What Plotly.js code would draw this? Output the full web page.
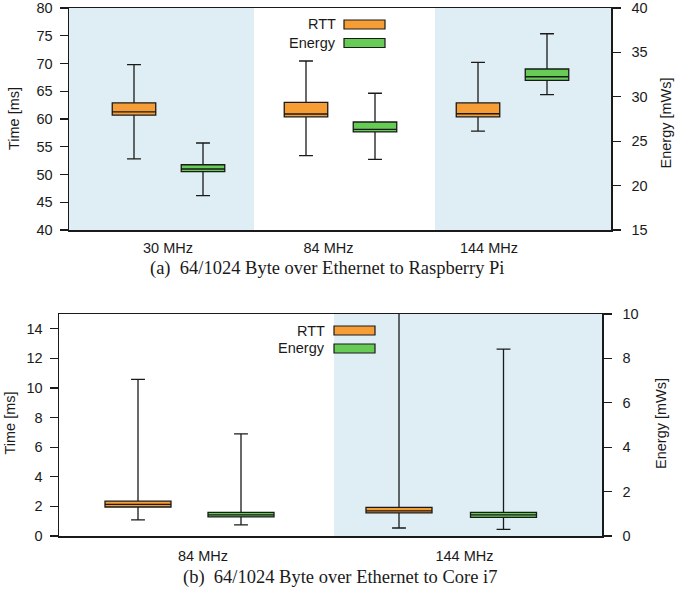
<!DOCTYPE html>
<html>
<head>
<meta charset="utf-8">
<script src="https://cdn.plot.ly/plotly-3.0.1.min.js"></script>
<style>html,body{margin:0;padding:0;background:#fff;}#chart{width:675px;height:596px;}</style>
</head>
<body>
<div id="chart"></div>
<script>
// ---------- data ----------
// Panel (a): 64/1024 Byte over Ethernet to Raspberry Pi
const catsA = ["30 MHz", "84 MHz", "144 MHz"];
const rttA_low  = [52.8, 53.4, 57.8];
const rttA_q1   = [60.7, 60.4, 60.4];
const rttA_med  = [61.3, 60.9, 60.95];
const rttA_q3   = [62.9, 63.0, 62.9];
const rttA_high = [69.8, 70.45, 70.2];
const enA_low   = [18.86, 22.96, 30.24];
const enA_q1    = [21.57, 26.04, 31.86];
const enA_med   = [21.87, 26.34, 32.26];
const enA_q3    = [22.35, 27.16, 33.13];
const enA_high  = [24.8, 30.4, 37.1];

// Panel (b): 64/1024 Byte over Ethernet to Core i7
const catsB = ["84 MHz", "144 MHz"];
const rttB_low  = [1.09, 0.54];
const rttB_q1   = [1.96, 1.56];
const rttB_med  = [2.14, 1.70];
const rttB_q3   = [2.35, 1.93];
const rttB_high = [10.58, 20.0];
const enB_low   = [0.5, 0.3];
const enB_q1    = [0.86, 0.84];
const enB_med   = [0.95, 0.95];
const enB_q3    = [1.06, 1.06];
const enB_high  = [4.6, 8.42];

const seriesNames = ["RTT", "Energy"];
const titleA = "(a)  64/1024 Byte over Ethernet to Raspberry Pi";
const titleB = "(b)  64/1024 Byte over Ethernet to Core i7";

// ---------- styling / geometry ----------
const W = 675, H = 596;
const ORANGE = "#F79D36", GREEN = "#66CC55", SHADE = "#DFEEF4", INK = "#1a1a1a";
const px = v => v / W;            // pixel -> paper x
const py = v => 1 - v / H;        // pixel -> paper y
const sans = "Liberation Sans, Arial, sans-serif";
const serif = "Liberation Serif, Times New Roman, serif";

// plot areas (pixels)
const A = {l: 69, r: 611, t: 8, b: 230};
const B = {l: 59, r: 602, t: 314, b: 536};

// x positions in panel-local units (range = pixel width of plot area)
const posRttA = catsA.map((c, i) => 65 + 172 * i);
const posEnA  = catsA.map((c, i) => 134 + 172 * i);
const tickA   = catsA.map((c, i) => 99 + 160.5 * i);
const posRttB = catsB.map((c, i) => 79 + 261 * i);
const posEnB  = catsB.map((c, i) => 182 + 262.5 * i);
const tickB   = catsB.map((c, i) => 144 + 261.5 * i);

function box(name, xs, low, q1, med, q3, high, color, xa, ya, width, ww) {
  return {
    type: "box", name: name, x: xs, q1: q1, median: med, q3: q3,
    lowerfence: low, upperfence: high, xaxis: xa, yaxis: ya,
    fillcolor: color, line: {color: INK, width: 1.3},
    width: width, whiskerwidth: ww, boxpoints: false, showlegend: false,
    hoverinfo: "skip"
  };
}

const traces = [
  box(seriesNames[0], posRttA, rttA_low, rttA_q1, rttA_med, rttA_q3, rttA_high, ORANGE, "x", "y", 43.5, 0.32),
  box(seriesNames[1], posEnA, enA_low, enA_q1, enA_med, enA_q3, enA_high, GREEN, "x", "y2", 43.5, 0.32),
  box(seriesNames[0], posRttB, rttB_low, rttB_q1, rttB_med, rttB_q3, rttB_high, ORANGE, "x2", "y3", 66, 0.21),
  box(seriesNames[1], posEnB, enB_low, enB_q1, enB_med, enB_q3, enB_high, GREEN, "x2", "y4", 66, 0.21)
];

const tickFont = {family: sans, size: 14.5, color: INK};
const yCommon = {
  showline: true, linecolor: INK, linewidth: 1.5, ticks: "outside", ticklen: 8,
  tickcolor: INK, tickwidth: 1.3, showgrid: false, zeroline: false, tickfont: tickFont,
  fixedrange: true, ticklabeloverflow: "allow"
};
const yLeft = Object.assign({}, yCommon, {ticklabelstandoff: 4});
const yRight = Object.assign({}, yCommon, {ticklabelstandoff: 8, side: "right"});

const layout = {
  width: W, height: H, margin: {l: 0, r: 0, t: 0, b: 0},
  paper_bgcolor: "#fff", plot_bgcolor: "rgba(0,0,0,0)",
  boxmode: "overlay", showlegend: false,
  xaxis: {domain: [px(A.l), px(A.r)], range: [0, A.r - A.l], anchor: "y",
          tickvals: tickA, ticktext: catsA, ticks: "", showline: true, mirror: true,
          linecolor: INK, linewidth: 1.5, showgrid: false, zeroline: false,
          tickfont: tickFont, ticklabelstandoff: 4, ticklabeloverflow: "allow"},
  yaxis: Object.assign({}, yLeft, {domain: [py(A.b), py(A.t)], range: [40, 80], dtick: 5, anchor: "x"}),
  yaxis2: Object.assign({}, yRight, {overlaying: "y", range: [15, 40], dtick: 5, anchor: "x"}),
  xaxis2: {domain: [px(B.l), px(B.r)], range: [0, B.r - B.l], anchor: "y3",
           tickvals: tickB, ticktext: catsB, ticks: "", showline: true, mirror: true,
           linecolor: INK, linewidth: 1.5, showgrid: false, zeroline: false,
           tickfont: tickFont, ticklabelstandoff: 6, ticklabeloverflow: "allow"},
  yaxis3: Object.assign({}, yLeft, {domain: [py(B.b), py(B.t)], range: [0, 15], tickvals: [0,2,4,6,8,10,12,14], anchor: "x2"}),
  yaxis4: Object.assign({}, yRight, {overlaying: "y3", range: [0, 10], dtick: 2, anchor: "x2"}),
  shapes: [
    {type: "rect", xref: "x", yref: "paper", x0: 0, x1: 185, y0: py(A.b), y1: py(A.t), fillcolor: SHADE, line: {width: 0}, layer: "below"},
    {type: "rect", xref: "x", yref: "paper", x0: 366, x1: A.r - A.l, y0: py(A.b), y1: py(A.t), fillcolor: SHADE, line: {width: 0}, layer: "below"},
    {type: "rect", xref: "x2", yref: "paper", x0: 275, x1: B.r - B.l, y0: py(B.b), y1: py(B.t), fillcolor: SHADE, line: {width: 0}, layer: "below"},
    // legend swatches
    {type: "rect", xref: "paper", yref: "paper", x0: px(344), x1: px(385), y0: py(29), y1: py(20), fillcolor: ORANGE, line: {color: INK, width: 1.2}},
    {type: "rect", xref: "paper", yref: "paper", x0: px(344), x1: px(385), y0: py(47.5), y1: py(38.5), fillcolor: GREEN, line: {color: INK, width: 1.2}},
    {type: "rect", xref: "paper", yref: "paper", x0: px(334), x1: px(375), y0: py(335), y1: py(326), fillcolor: ORANGE, line: {color: INK, width: 1.2}},
    {type: "rect", xref: "paper", yref: "paper", x0: px(334), x1: px(375), y0: py(353), y1: py(344), fillcolor: GREEN, line: {color: INK, width: 1.2}}
  ],
  annotations: [
    // legend texts
    {xref: "paper", yref: "paper", x: px(338), y: py(24.5), xanchor: "right", yanchor: "middle", text: seriesNames[0], showarrow: false, font: tickFont},
    {xref: "paper", yref: "paper", x: px(338), y: py(43), xanchor: "right", yanchor: "middle", text: seriesNames[1], showarrow: false, font: tickFont},
    {xref: "paper", yref: "paper", x: px(327), y: py(330.5), xanchor: "right", yanchor: "middle", text: seriesNames[0], showarrow: false, font: tickFont},
    {xref: "paper", yref: "paper", x: px(327), y: py(348.5), xanchor: "right", yanchor: "middle", text: seriesNames[1], showarrow: false, font: tickFont},
    // axis titles
    {xref: "paper", yref: "paper", x: px(14), y: py(119), xanchor: "center", yanchor: "middle", textangle: -90, text: "Time [ms]", showarrow: false, font: tickFont},
    {xref: "paper", yref: "paper", x: px(665.5), y: py(123), xanchor: "center", yanchor: "middle", textangle: -90, text: "Energy [mWs]", showarrow: false, font: tickFont},
    {xref: "paper", yref: "paper", x: px(9.5), y: py(423), xanchor: "center", yanchor: "middle", textangle: -90, text: "Time [ms]", showarrow: false, font: tickFont},
    {xref: "paper", yref: "paper", x: px(661), y: py(424), xanchor: "center", yanchor: "middle", textangle: -90, text: "Energy [mWs]", showarrow: false, font: tickFont},
    // captions
    {xref: "paper", yref: "paper", x: px(327.5), y: py(268), xanchor: "center", yanchor: "middle", text: titleA, showarrow: false, font: {family: serif, size: 18.5, color: INK}},
    {xref: "paper", yref: "paper", x: px(339.5), y: py(577), xanchor: "center", yanchor: "middle", text: titleB, showarrow: false, font: {family: serif, size: 18.5, color: INK}}
  ]
};

Plotly.newPlot("chart", traces, layout, {staticPlot: true, displayModeBar: false});
</script>
</body>
</html>
